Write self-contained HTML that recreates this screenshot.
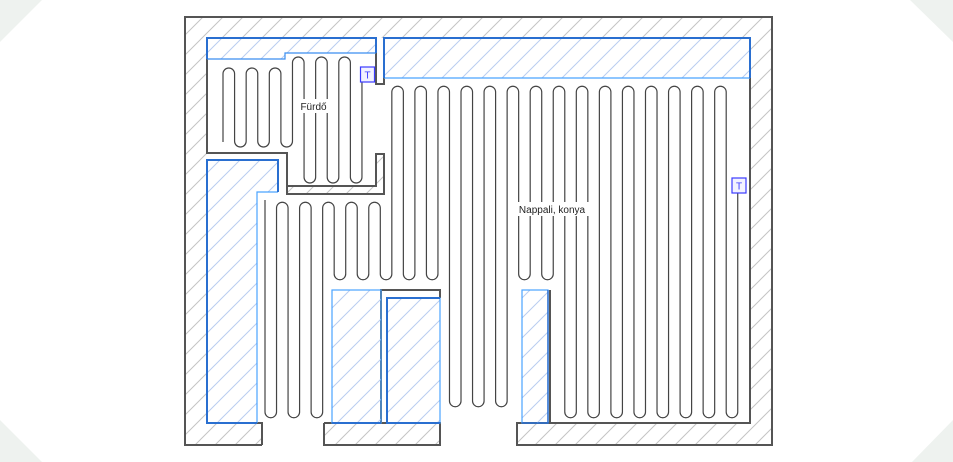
<!DOCTYPE html>
<html><head><meta charset="utf-8"><style>
html,body{margin:0;padding:0;width:953px;height:462px;overflow:hidden;background:#eef2ef}
svg{display:block}
text{font-family:"Liberation Sans",sans-serif}
</style></head><body>
<svg width="953" height="462" viewBox="0 0 953 462" xmlns="http://www.w3.org/2000/svg">
<defs>
<pattern id="hg" patternUnits="userSpaceOnUse" width="20" height="20">
<path d="M-5,5 L5,-5 M0,20 L20,0 M15,25 L25,15" stroke="#c4c4c4" stroke-width="1"/>
</pattern>
<pattern id="hb" patternUnits="userSpaceOnUse" width="20" height="20">
<path d="M-5,5 L5,-5 M0,20 L20,0 M15,25 L25,15" stroke="#b9cdf0" stroke-width="1"/>
</pattern>
</defs>
<polygon points="42,0 910,0 953,42 953,420 912,462 42,462 0,420 0,42" fill="#fff"/>
<!-- outer band -->
<rect x="185" y="17" width="587" height="428" fill="#fff"/>
<rect x="185" y="17" width="587" height="428" fill="url(#hg)"/>
<rect x="207" y="38" width="543" height="385" fill="#fff"/>
<rect x="262" y="422" width="62" height="26" fill="#fff"/>
<rect x="440" y="422" width="77" height="26" fill="#fff"/>
<g fill="none" stroke="#555" stroke-width="2">
<path d="M262,445 H185 V17 H772 V445 H517 V423 H750 V78"/>
<path d="M207,423 H262 V445"/>
<path d="M324,423 V445 H440 V423 H324"/>
</g>
<!-- bathroom walls -->
<polygon points="376,154 384,154 384,194 287,194 287,186 376,186" fill="url(#hg)"/>
<polygon points="376,38 384,38 384,84 376,84" fill="#fff"/>
<g fill="none" stroke="#555" stroke-width="2">
<path d="M207,59 V153 H287 V194 H384 V154 H376 V186 H287"/>
<path d="M376,38 V84 H384 V38"/>
<path d="M381,423 V290 H440 V298"/>
<path d="M550,423 V290"/>
</g>
<!-- blue regions -->
<polygon points="207,38 376,38 376,53 285,53 285,59 207,59" fill="url(#hb)" stroke="none"/>
<path d="M376,53 H285 V59 H207" fill="none" stroke="#3a8ef0" stroke-width="1.2"/>
<path d="M207,59 V38 H376 V53" fill="none" stroke="#2a6fd0" stroke-width="2"/>
<rect x="384" y="38" width="366" height="40" fill="url(#hb)"/>
<path d="M384,78 H750" stroke="#4aa3ff" stroke-width="1.2" fill="none"/>
<path d="M384,78 V38 H750 V78" stroke="#2a6fd0" stroke-width="2" fill="none"/>
<polygon points="207,160 278,160 278,192 257,192 257,423 207,423" fill="url(#hb)"/>
<path d="M278,192 H257 V423" stroke="#4aa3ff" stroke-width="1.2" fill="none"/>
<path d="M257,423 H207 V160 H278 V192" stroke="#2a6fd0" stroke-width="2" fill="none"/>
<rect x="332" y="290" width="49" height="133" fill="url(#hb)" stroke="#4aa3ff" stroke-width="1.2"/>
<path d="M332,423 H381" stroke="#2a6fd0" stroke-width="2"/>
<rect x="387" y="298" width="53" height="125" fill="url(#hb)" stroke="#4aa3ff" stroke-width="1.2"/>
<path d="M440,298 H387 V423 H440" stroke="#2a6fd0" stroke-width="2" fill="none"/>
<rect x="522" y="290" width="26" height="133" fill="url(#hb)" stroke="#4aa3ff" stroke-width="1.2"/>
<path d="M522,423 H548 V290" stroke="#2a6fd0" stroke-width="1.5" fill="none"/>
<!-- pipes -->
<g fill="none" stroke="#444" stroke-width="1.2">
<path d="M223,142 V73.8 a5.79,5.79 0 0 1 11.58,0 V141.2 a5.79,5.79 0 0 0 11.58,0 V73.8 a5.79,5.79 0 0 1 11.58,0 V141.2 a5.79,5.79 0 0 0 11.58,0 V73.8 a5.79,5.79 0 0 1 11.58,0 V141.2 a5.79,5.79 0 0 0 11.58,0 V62.8 a5.79,5.79 0 0 1 11.58,0 V177.2 a5.79,5.79 0 0 0 11.58,0 V62.8 a5.79,5.79 0 0 1 11.58,0 V177.2 a5.79,5.79 0 0 0 11.58,0 V62.8 a5.79,5.79 0 0 1 11.58,0 V177.2 a5.79,5.79 0 0 0 11.58,0 V82"/>
<path d="M265,200 V412.2 a5.77,5.77 0 0 0 11.53,0 V207.8 a5.77,5.77 0 0 1 11.53,0 V412.2 a5.77,5.77 0 0 0 11.53,0 V207.8 a5.77,5.77 0 0 1 11.53,0 V412.2 a5.77,5.77 0 0 0 11.53,0 V207.8 a5.77,5.77 0 0 1 11.53,0 V274.2 a5.77,5.77 0 0 0 11.53,0 V207.8 a5.77,5.77 0 0 1 11.53,0 V274.2 a5.77,5.77 0 0 0 11.53,0 V207.8 a5.77,5.77 0 0 1 11.53,0 V274.2 a5.77,5.77 0 0 0 11.53,0 V91.8 a5.77,5.77 0 0 1 11.53,0 V274.2 a5.77,5.77 0 0 0 11.53,0 V91.8 a5.77,5.77 0 0 1 11.53,0 V274.2 a5.77,5.77 0 0 0 11.53,0 V91.8 a5.77,5.77 0 0 1 11.53,0 V401.2 a5.77,5.77 0 0 0 11.53,0 V91.8 a5.77,5.77 0 0 1 11.53,0 V401.2 a5.77,5.77 0 0 0 11.53,0 V91.8 a5.77,5.77 0 0 1 11.53,0 V401.2 a5.77,5.77 0 0 0 11.53,0 V91.8 a5.77,5.77 0 0 1 11.53,0 V274.2 a5.77,5.77 0 0 0 11.53,0 V91.8 a5.77,5.77 0 0 1 11.53,0 V274.2 a5.77,5.77 0 0 0 11.53,0 V91.8 a5.77,5.77 0 0 1 11.53,0 V412.2 a5.77,5.77 0 0 0 11.53,0 V91.8 a5.77,5.77 0 0 1 11.53,0 V412.2 a5.77,5.77 0 0 0 11.53,0 V91.8 a5.77,5.77 0 0 1 11.53,0 V412.2 a5.77,5.77 0 0 0 11.53,0 V91.8 a5.77,5.77 0 0 1 11.53,0 V412.2 a5.77,5.77 0 0 0 11.53,0 V91.8 a5.77,5.77 0 0 1 11.53,0 V412.2 a5.77,5.77 0 0 0 11.53,0 V91.8 a5.77,5.77 0 0 1 11.53,0 V412.2 a5.77,5.77 0 0 0 11.53,0 V91.8 a5.77,5.77 0 0 1 11.53,0 V412.2 a5.77,5.77 0 0 0 11.53,0 V91.8 a5.77,5.77 0 0 1 11.53,0 V412.2 a5.77,5.77 0 0 0 11.53,0 V193"/>
</g>
<!-- thermostats -->
<rect x="360.5" y="67" width="14" height="15" fill="#f2f2ff" stroke="#3b3bff" stroke-width="1.2"/>
<text x="367.5" y="78.5" font-size="10" fill="#3b3bff" text-anchor="middle">T</text>
<rect x="732" y="178" width="14" height="15" fill="#f2f2ff" stroke="#3b3bff" stroke-width="1.2"/>
<text x="739" y="189.5" font-size="10" fill="#3b3bff" text-anchor="middle">T</text>
<!-- labels -->
<rect x="298" y="99" width="31" height="14" fill="#fff"/>
<text x="313.5" y="110" font-size="10" fill="#222" text-anchor="middle">Fürdő</text>
<rect x="515" y="202" width="74" height="14" fill="#fff"/>
<text x="552" y="213" font-size="10" fill="#222" text-anchor="middle">Nappali, konya</text>
</svg>
</body></html>
